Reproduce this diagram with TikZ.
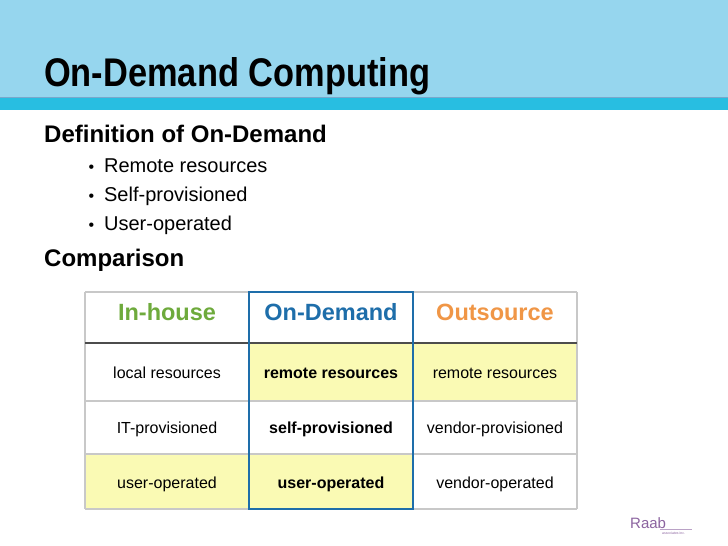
\documentclass[tikz,border=0pt]{standalone}
\usepackage{fontspec}
\setmainfont{Liberation Sans}
\usetikzlibrary{positioning}
\definecolor{barblue}{RGB}{150,214,238}
\definecolor{stripe}{RGB}{40,190,225}
\definecolor{cellyel}{RGB}{250,250,180}
\definecolor{hgreen}{RGB}{110,170,60}
\definecolor{hblue}{RGB}{30,110,170}
\definecolor{horange}{RGB}{240,150,70}
\definecolor{gridgray}{RGB}{200,200,200}
\definecolor{raab}{RGB}{140,100,160}
\begin{document}
\begin{tikzpicture}[x=1pt,y=-1pt,
    cell/.style={minimum width=164pt,minimum height=55pt,inner sep=0pt,font=\fontsize{16}{18}\selectfont},
    head/.style={font=\fontsize{23.5}{25}\selectfont\bfseries},
    item/.style={anchor=base west,font=\fontsize{20}{22}\selectfont}]
 \useasboundingbox (0,0) rectangle (728,546);
 \fill[white] (0,0) rectangle (728,546);
 % title bar
 \fill[barblue] (0,0) rectangle (728,97);
 \fill[stripe] (0,97) rectangle (728,110);
 \draw[hblue!60] (0,97) -- (728,97);
 \node[anchor=base west,inner sep=0pt,font=\fontsize{40}{42}\selectfont\bfseries,xscale=0.86] (title) at (44,86) {On-Demand Computing};
 % text
 \node[anchor=base west,inner sep=0pt,font=\fontsize{24}{26}\selectfont\bfseries] (def) at (44,142) {Definition of On-Demand};
 \node[item] (b1) at (85,172) {{\fontsize{16}{18}\selectfont\textbullet}\hspace{10pt}Remote resources};
 \node[item] (b2) at (85,201) {{\fontsize{16}{18}\selectfont\textbullet}\hspace{10pt}Self-provisioned};
 \node[item] (b3) at (85,230) {{\fontsize{16}{18}\selectfont\textbullet}\hspace{10pt}User-operated};
 \node[anchor=base west,inner sep=0pt,font=\fontsize{24}{26}\selectfont\bfseries] (cmp) at (44,266) {Comparison};
 % table
 \fill[cellyel] (249,343) rectangle (577,401);
 \fill[cellyel] (85,454) rectangle (413,509);
 \draw[gridgray,line width=1.2pt] (85,292) -- (577,292) (85,401) -- (577,401) (85,454) -- (577,454) (85,509) -- (577,509)
   (85,292) -- (85,509) (413,292) -- (413,509) (577,292) -- (577,509);
 \draw[black!70,line width=1.2pt] (85,343) -- (577,343);
 \draw[hblue,line width=1.3pt] (249,292) rectangle (413,509);
 \node[head,text=hgreen] (h1) at (167,312) {In-house};
 \node[head,text=hblue] (h2) at (331,312) {On-Demand};
 \node[head,text=horange] (h3) at (495,312) {Outsource};
 \node[cell] (c11) at (167,373) {local resources};
 \node[cell] (c12) at (331,373) {\bfseries remote resources};
 \node[cell] (c13) at (495,373) {remote resources};
 \node[cell] (c21) at (167,429) {IT-provisioned};
 \node[cell] (c22) at (331,429) {\bfseries self-provisioned};
 \node[cell] (c23) at (495,429) {vendor-provisioned};
 \node[cell] (c31) at (167,484) {user-operated};
 \node[cell] (c32) at (331,484) {\bfseries user-operated};
 \node[cell] (c33) at (495,484) {vendor-operated};
 % logo
 \node[anchor=base west,inner sep=0pt,text=raab,font=\fontsize{15}{15}\selectfont\rmfamily] (logo) at (630,528) {Raab};
 \draw[raab!60,line width=0.4pt] (660,529) -- (692,529);
 \node[anchor=base west,inner sep=0pt,text=raab,font=\fontsize{3.5}{4}\selectfont] (assoc) at (662,534) {associates inc.};
\end{tikzpicture}
\end{document}
